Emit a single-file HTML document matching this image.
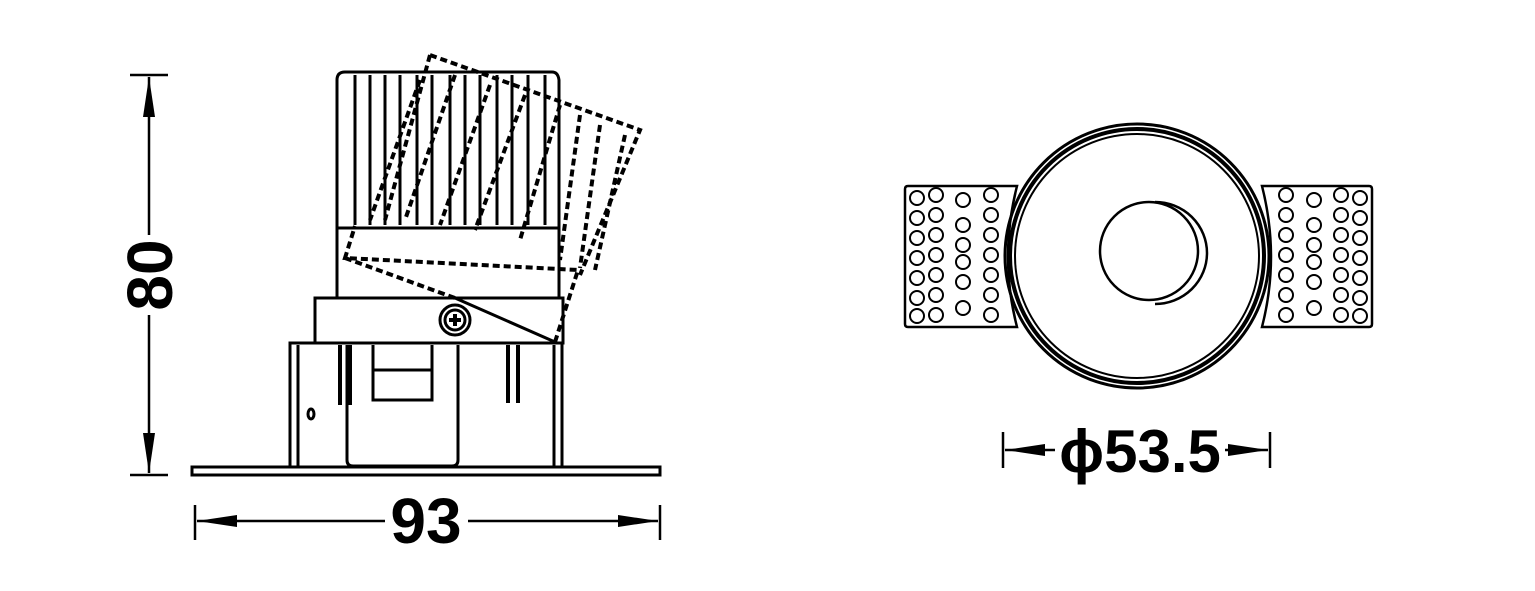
<!DOCTYPE html>
<html><head><meta charset="utf-8"><style>body{margin:0;background:#fff}svg{display:block}</style></head><body>
<svg width="1535" height="591" viewBox="0 0 1535 591" xmlns="http://www.w3.org/2000/svg" fill="none" stroke="#000">
<defs>
<marker id="a" viewBox="0 0 10 10" preserveAspectRatio="none" refX="10" refY="5" markerWidth="40" markerHeight="12" orient="auto-start-reverse" markerUnits="userSpaceOnUse"><path d="M0,0L10,5L0,10z" fill="#000" stroke="none"/></marker>
</defs>
<g stroke-width="2.5">
<line x1="130" y1="75" x2="168" y2="75"/><line x1="130" y1="475" x2="168" y2="475"/>
<line x1="149" y1="77" x2="149" y2="235" marker-start="url(#a)"/>
<line x1="149" y1="315" x2="149" y2="473" marker-end="url(#a)"/>
<line x1="195" y1="505" x2="195" y2="540"/><line x1="660" y1="505" x2="660" y2="540"/>
<line x1="197" y1="521" x2="385" y2="521" marker-start="url(#a)"/>
<line x1="468" y1="521" x2="658" y2="521" marker-end="url(#a)"/>
<line x1="1003" y1="432" x2="1003" y2="468"/><line x1="1270" y1="432" x2="1270" y2="468"/>
<line x1="1005" y1="450" x2="1055" y2="450" marker-start="url(#a)"/>
<line x1="1225" y1="450" x2="1268" y2="450" marker-end="url(#a)"/>
</g>
<g fill="#000" stroke="none" font-family="Liberation Sans, sans-serif" font-weight="bold" font-size="64">
<text x="0" y="0" text-anchor="middle" transform="translate(172,275) rotate(-90)">80</text>
<text x="426" y="543" text-anchor="middle">93</text>
<text x="1140" y="472" text-anchor="middle" font-size="60">ϕ53.5</text>
</g>
<g stroke-width="3">
<rect x="192" y="467" width="468" height="8"/>
<path d="M290 468V343H562V468"/>
<path d="M298 345V468M554 345V468"/>
<path d="M347 345V460q0 6 6 6H452q6 0 6-6V345"/>
<path d="M373 345V400H432V345M373 370H432"/>
<path d="M340 345V405M350 345V405M508 345V403M518 345V403" stroke-width="4"/>
<ellipse cx="311" cy="414" rx="3" ry="5"/>
<rect x="315" y="298" width="248" height="45"/>
<circle cx="455" cy="320" r="15"/><circle cx="455" cy="320" r="10"/>
<path d="M449 320h12M455 314v12" stroke-width="4"/>
<line x1="455" y1="298" x2="555" y2="342"/>
<path d="M337 298V80q0-8 8-8H552q6 0 7 8V298"/>
<line x1="337" y1="228" x2="560" y2="228"/>
<path d="M355 75V225M370 75V225M385 75V225M400 75V225M417 75V225M432 75V225M450 75V225M465 75V225M480 75V225M497 75V225M512 75V225M528 75V225M545 75V225"/>
</g>
<g stroke-width="4" stroke-dasharray="7 4">
<path d="M555 342L578 270L345 258L355 226M345 258L455 298"/>
<path d="M430 55L640 130L580 275M430 55L385 220"/>
<path d="M420 80L370 220M455 75L405 220M490 85L440 225M525 95L475 230M560 105L520 240M580 115L560 260M600 125L580 268M625 135L595 270"/>
</g>
<g stroke-width="2.5">
<path d="M1017 186H908q-3 0-3 3V324q0 3 3 3H1017q-18-70 0-141z"/>
<path d="M1262 186H1369q3 0 3 3V324q0 3-3 3H1262q18-70 0-141z"/>
<circle cx="1137" cy="256" r="132" stroke-width="3"/>
<circle cx="1137" cy="256" r="127" stroke-width="4"/>
<circle cx="1137" cy="256" r="122" stroke-width="2"/>
<circle cx="1149" cy="251" r="49"/>
<path d="M1155 202a52 51 0 0 1 0 102"/>
</g>
<g stroke-width="2">
<g id="L">
<circle cx="917" cy="198" r="7"/><circle cx="917" cy="218" r="7"/><circle cx="917" cy="238" r="7"/><circle cx="917" cy="258" r="7"/><circle cx="917" cy="278" r="7"/><circle cx="917" cy="298" r="7"/><circle cx="917" cy="316" r="7"/>
<circle cx="936" cy="195" r="7"/><circle cx="936" cy="215" r="7"/><circle cx="936" cy="235" r="7"/><circle cx="936" cy="255" r="7"/><circle cx="936" cy="275" r="7"/><circle cx="936" cy="295" r="7"/><circle cx="936" cy="315" r="7"/>
<circle cx="963" cy="200" r="7"/><circle cx="963" cy="225" r="7"/><circle cx="963" cy="245" r="7"/><circle cx="963" cy="262" r="7"/><circle cx="963" cy="282" r="7"/><circle cx="963" cy="308" r="7"/>
<circle cx="991" cy="195" r="7"/><circle cx="991" cy="215" r="7"/><circle cx="991" cy="235" r="7"/><circle cx="991" cy="255" r="7"/><circle cx="991" cy="275" r="7"/><circle cx="991" cy="295" r="7"/><circle cx="991" cy="315" r="7"/>
</g>
<use href="#L" transform="translate(2277,0) scale(-1,1)"/>
</g>
</svg>
</body></html>
